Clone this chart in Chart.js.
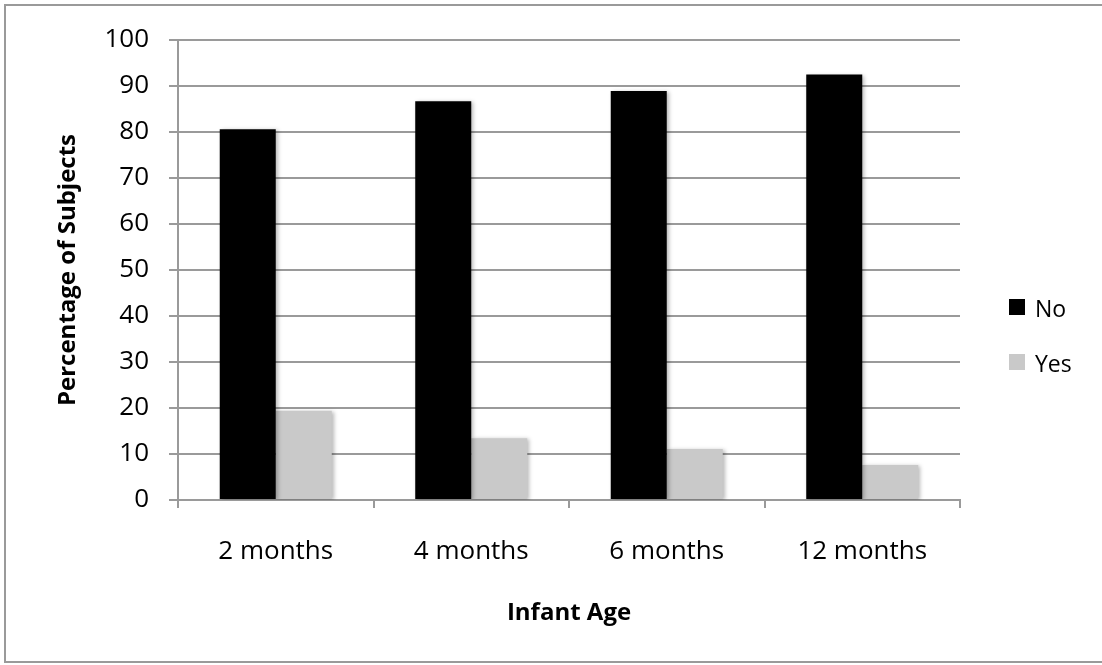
<!DOCTYPE html>
<html>
<head>
<meta charset="utf-8">
<script src="https://cdn.jsdelivr.net/npm/chart.js@4/dist/chart.umd.min.js"></script>
<style>
  html, body { margin: 0; padding: 0; background: #fff; }
  #wrap { position: relative; width: 1102px; height: 665px; overflow: hidden; }
  #frame { position: absolute; left: 4px; top: 4px; width: 1120px; height: 659px;
           box-sizing: border-box; border: 2px solid #9a9a9a; }
  #c { position: absolute; left: 0; top: 0; }
</style>
</head>
<body>
<div id="wrap">
  <div id="frame"></div>
  <canvas id="c" width="1102" height="665"></canvas>
</div>
<script>
// Share of subjects answering No / Yes at each infant age
const categories = ['2 months', '4 months', '6 months', '12 months'];
const noValues = [80.6, 86.7, 88.9, 92.5];
const yesValues = [19.4, 13.4, 11.1, 7.6];
const seriesNames = ['No', 'Yes'];
const seriesColors = ['#000000', '#c9c9c9'];
const yTicksMax = 100;
const yTickStep = 10;

const FONT = '"Open Sans", "Liberation Sans", sans-serif';
const GRID = '#9a9a9a';

// soft drop shadow behind the bars
const barShadow = {
  id: 'barShadow',
  beforeDatasetsDraw(chart) {
    const ctx = chart.ctx;
    ctx.save();
    ctx.shadowColor = 'rgba(0,0,0,0.28)';
    ctx.shadowBlur = 4;
    ctx.shadowOffsetX = 2;
    ctx.shadowOffsetY = 1;
  },
  afterDatasetsDraw(chart) {
    chart.ctx.restore();
  }
};

// legend on the right, built from the dataset labels and colours
const sideLegend = {
  id: 'sideLegend',
  afterDraw(chart) {
    const ctx = chart.ctx;
    ctx.save();
    ctx.font = '23px ' + FONT;
    ctx.textBaseline = 'middle';
    ctx.textAlign = 'left';
    chart.data.datasets.forEach((ds, i) => {
      const cy = 307 + i * 55;
      ctx.fillStyle = ds.backgroundColor;
      ctx.fillRect(1009, cy - 8, 16, 16);
      ctx.fillStyle = '#000';
      ctx.fillText(ds.label, 1035, cy + 3);
    });
    ctx.restore();
  }
};

new Chart(document.getElementById('c'), {
  type: 'bar',
  data: {
    labels: categories,
    datasets: [
      { label: seriesNames[0], data: noValues, backgroundColor: seriesColors[0] },
      { label: seriesNames[1], data: yesValues, backgroundColor: seriesColors[1] }
    ]
  },
  options: {
    responsive: false,
    animation: false,
    devicePixelRatio: 1,
    categoryPercentage: 0.573,
    barPercentage: 1,
    layout: { padding: { top: 40, right: 142, left: 0, bottom: 0 } },
    plugins: {
      legend: { display: false },
      tooltip: { enabled: false }
    },
    scales: {
      x: {
        offset: true,
        grid: { offset: true, drawOnChartArea: false, drawTicks: true, tickLength: 8, color: GRID, lineWidth: 2 },
        border: { display: true, color: GRID, width: 2 },
        ticks: { color: '#000', font: { family: FONT, size: 26 }, padding: 28 },
        title: { display: true, text: 'Infant Age', color: '#000',
                 font: { family: FONT, size: 24, weight: 'bold' }, padding: { top: 0, bottom: 37 } },
        afterFit(scale) { scale.height = 165; }
      },
      y: {
        min: 0,
        max: yTicksMax,
        ticks: { stepSize: yTickStep, color: '#000', font: { family: FONT, size: 26 }, padding: 20 },
        grid: { color: GRID, lineWidth: 2, tickLength: 9 },
        border: { display: true, color: GRID, width: 2 },
        title: { display: true, text: 'Percentage of Subjects', color: '#000',
                 font: { family: FONT, size: 24, weight: 'bold' }, padding: { top: 54, bottom: 0 } },
        afterFit(scale) { scale.width = 178; }
      }
    }
  },
  plugins: [barShadow, sideLegend]
});
</script>
</body>
</html>
